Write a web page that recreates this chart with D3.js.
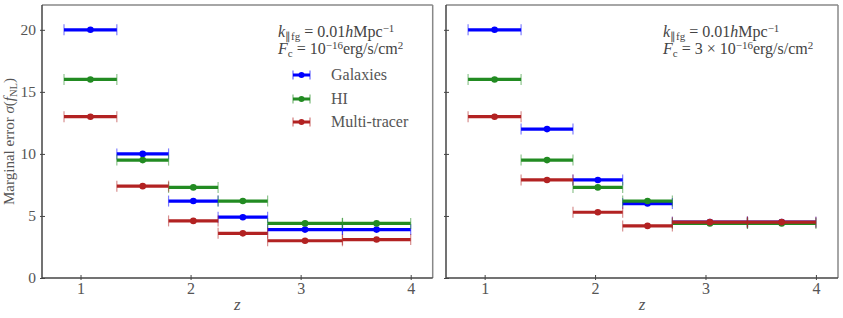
<!DOCTYPE html>
<html>
<head>
<meta charset="utf-8">
<script src="https://cdn.jsdelivr.net/npm/d3@7"></script>
<style>
  body { margin: 0; background: #fff; }
  svg { display: block; }
</style>
</head>
<body>
<div id="chart"></div>
<script>
// redshift bins
var zEdges = [0.85, 1.33, 1.8, 2.25, 2.7, 3.38, 4.0];
var zCenters = [1.09, 1.565, 2.025, 2.475, 3.04, 3.69];

// left panel, F_c = 1e-16
var galaxiesLeft = [20, 10, 6.2, 4.9, 3.9, 3.9];
var hiLeft = [16, 9.5, 7.3, 6.2, 4.4, 4.4];
var multiLeft = [13, 7.4, 4.6, 3.6, 3.0, 3.1];

// right panel, F_c = 3e-16
var galaxiesRight = [20, 12, 7.9, 6.0, 4.5, 4.5];
var hiRight = [16, 9.5, 7.3, 6.2, 4.4, 4.4];
var multiRight = [13, 7.9, 5.3, 4.2, 4.5, 4.5];

var seriesNames = ['Galaxies', 'HI', 'Multi-tracer'];
var colors = ['#0000ff', '#228b22', '#b22222'];
var xTicks = [1, 2, 3, 4];
var yTicks = [0, 5, 10, 15, 20];

var FONT = '"Liberation Serif"';
var W = 843, H = 318;
var svg = d3.select('#chart').append('svg')
	.attr('width', W)
	.attr('height', H);

var y = d3.scaleLinear().domain([0, 22]).range([278, 5]);

function drawPanel(x0, x1, data, showYLabels) {
	var x = d3.scaleLinear().domain([0.65, 4.2]).range([x0, x1]);
	var g = svg.append('g');

	// y axis
	var ya = g.append('g')
		.attr('transform', 'translate(' + x0 + ',0)')
		.call(d3.axisLeft(y).tickValues(yTicks).tickSizeOuter(0).tickSize(2).tickPadding(4)
			.tickFormat(showYLabels ? d3.format('d') : ''));
	ya.attr('font-family', null);
	ya.select('.domain').remove();
	ya.selectAll('.tick line').attr('x1', 3).attr('x2', -2).attr('stroke', '#444');
	ya.selectAll('.tick text').attr('fill', '#555').style('font-size', '15.5px')
		.style('font-family', FONT);

	// x axis
	var xa = g.append('g')
		.attr('transform', 'translate(0,278)')
		.call(d3.axisBottom(x).tickValues(xTicks).tickSizeOuter(0).tickSize(2).tickPadding(3)
			.tickFormat(d3.format('d')));
	xa.attr('font-family', null);
	xa.select('.domain').remove();
	xa.selectAll('.tick line').attr('y1', -3).attr('y2', 2).attr('stroke', '#444');
	xa.selectAll('.tick text').attr('fill', '#555').style('font-size', '16px')
		.style('font-family', FONT);

	// frame
	g.append('line').attr('x1', x0).attr('x2', x1).attr('y1', 5).attr('y2', 5)
		.attr('stroke', '#888').attr('stroke-width', 1.5);
	g.append('line').attr('x1', x1).attr('x2', x1).attr('y1', 5).attr('y2', 278)
		.attr('stroke', '#888').attr('stroke-width', 1.5);
	g.append('line').attr('x1', x0).attr('x2', x0).attr('y1', 5).attr('y2', 278)
		.attr('stroke', '#444').attr('stroke-width', 1.5);
	g.append('line').attr('x1', x0).attr('x2', x1).attr('y1', 278).attr('y2', 278)
		.attr('stroke', '#444').attr('stroke-width', 1.5);

	// error bars
	data.forEach(function(vals, s) {
		var c = colors[s];
		var sg = g.append('g');
		vals.forEach(function(v, i) {
			var xl = x(zEdges[i]), xr = x(zEdges[i + 1]), yy = y(v);
			sg.append('line').attr('x1', xl).attr('x2', xl)
				.attr('y1', yy - 5.5).attr('y2', yy + 5.5)
				.attr('stroke', c).attr('stroke-opacity', 0.5).attr('stroke-width', 1.2);
			sg.append('line').attr('x1', xr).attr('x2', xr)
				.attr('y1', yy - 5.5).attr('y2', yy + 5.5)
				.attr('stroke', c).attr('stroke-opacity', 0.5).attr('stroke-width', 1.2);
			sg.append('line').attr('x1', xl).attr('x2', xr)
				.attr('y1', yy).attr('y2', yy)
				.attr('stroke', c).attr('stroke-width', 3.2);
			sg.append('circle').attr('cx', x(zCenters[i])).attr('cy', yy)
				.attr('r', 3.3).attr('fill', c);
		});
	});

	// x label
	g.append('text')
		.attr('x', (x0 + x1) / 2).attr('y', 310)
		.attr('text-anchor', 'middle')
		.attr('fill', '#555')
		.style('font-family', FONT)
		.style('font-size', '17px').style('font-style', 'italic')
		.text('z');

	return x;
}

function mathLine(xText, parts, fy) {
	var t = svg.append('text')
		.attr('x', xText).attr('y', fy)
		.attr('fill', '#444')
		.style('font-family', FONT)
		.style('font-size', '16px');
	parts.forEach(function(p) {
		var ts = t.append('tspan').text(p.t);
		if (p.i) ts.style('font-style', 'italic');
		if (p.sub) ts.attr('baseline-shift', '-25%').style('font-size', '11px');
		if (p.sup) ts.attr('baseline-shift', '45%').style('font-size', '11px');
	});
	return t;
}

var kParts = [
	{t: 'k', i: 1}, {t: '\u2225fg', sub: 1}, {t: ' = 0.01'}, {t: 'h', i: 1},
	{t: 'Mpc'}, {t: '\u22121', sup: 1}
];
var fcLeft = [
	{t: 'F', i: 1}, {t: 'c', sub: 1}, {t: ' = 10'}, {t: '\u221216', sup: 1},
	{t: 'erg/s/cm'}, {t: '2', sup: 1}
];
var fcRight = [
	{t: 'F', i: 1}, {t: 'c', sub: 1}, {t: ' = 3 \u00d7 10'}, {t: '\u221216', sup: 1},
	{t: 'erg/s/cm'}, {t: '2', sup: 1}
];

drawPanel(42, 432.7, [galaxiesLeft, hiLeft, multiLeft], true);
drawPanel(446, 838, [galaxiesRight, hiRight, multiRight], false);

mathLine(278, kParts, 37);
mathLine(278, fcLeft, 54);
mathLine(663, kParts, 37);
mathLine(663, fcRight, 54);

// legend
var legendY = [75, 99, 122];
seriesNames.forEach(function(name, i) {
	var c = colors[i], yy = legendY[i];
	svg.append('line').attr('x1', 293).attr('x2', 310).attr('y1', yy).attr('y2', yy)
		.attr('stroke', c).attr('stroke-width', 3);
	[293, 310].forEach(function(xc) {
		svg.append('line').attr('x1', xc).attr('x2', xc).attr('y1', yy - 4.5).attr('y2', yy + 4.5)
			.attr('stroke', c).attr('stroke-opacity', 0.6).attr('stroke-width', 1.2);
	});
	svg.append('circle').attr('cx', 301.5).attr('cy', yy).attr('r', 3).attr('fill', c);
	svg.append('text').attr('x', 331).attr('y', yy + 5)
		.attr('fill', '#555')
		.style('font-family', FONT)
		.style('font-size', '16px')
		.text(name);
});

// y label
var yl = svg.append('text')
	.attr('transform', 'translate(14,141.5) rotate(-90)')
	.attr('text-anchor', 'middle')
	.attr('fill', '#555')
	.style('font-family', FONT)
	.style('font-size', '15px');
yl.append('tspan').text('Marginal error ');
yl.append('tspan').style('font-style', 'italic').text('\u03c3');
yl.append('tspan').text('(');
yl.append('tspan').style('font-style', 'italic').text('f');
yl.append('tspan').attr('dy', 3).style('font-size', '10.5px').text('NL');
yl.append('tspan').attr('dy', -3).text(')');
</script>
</body>
</html>
